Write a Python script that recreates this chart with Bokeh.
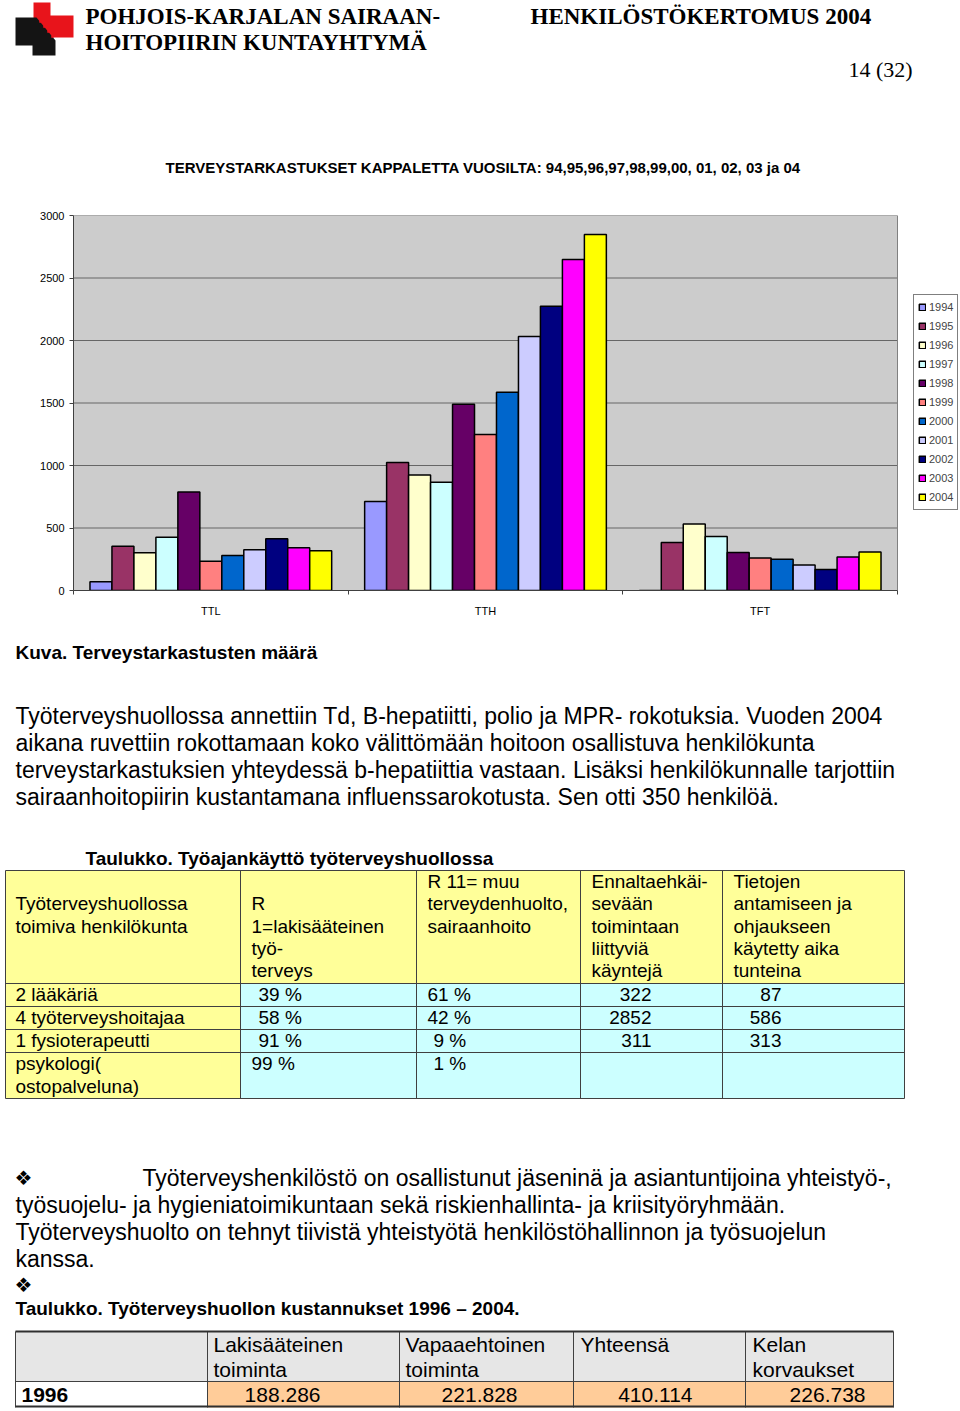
from bokeh.plotting import figure
from bokeh.models import Range1d, FixedTicker, Legend, LegendItem, ColumnDataSource
from bokeh.transform import dodge
from bokeh.core.properties import value
from bokeh.embed import file_html
from bokeh.resources import INLINE

# ---------------- chart data ----------------
categories = ["TTL", "TTH", "TFT"]
years = ["1994", "1995", "1996", "1997", "1998", "1999", "2000", "2001", "2002", "2003", "2004"]
ttl_values = [70, 355, 302, 427, 788, 235, 280, 326, 414, 342, 318]
tth_values = [712, 1024, 925, 867, 1491, 1248, 1587, 2032, 2275, 2648, 2848]
tft_values = [0, 384, 533, 432, 304, 261, 251, 205, 168, 269, 309]
year_colors = ["#9999FF", "#993366", "#FFFFCC", "#CCFFFF", "#660066", "#FF8080",
               "#0066CC", "#CCCCFF", "#000080", "#FF00FF", "#FFFF00"]
y_ticks = [0, 500, 1000, 1500, 2000, 2500, 3000]
chart_title = "TERVEYSTARKASTUKSET KAPPALETTA VUOSILTA: 94,95,96,97,98,99,00, 01, 02, 03 ja 04"

# ---------------- page texts ----------------
org_lines = ["POHJOIS-KARJALAN SAIRAAN-", "HOITOPIIRIN KUNTAYHTYMÄ"]
doc_title = "HENKILÖSTÖKERTOMUS 2004"
page_no = "14 (32)"
figure_caption = "Kuva. Terveystarkastusten määrä"
paragraph1 = [
    "Työterveyshuollossa annettiin Td, B-hepatiitti, polio ja MPR- rokotuksia. Vuoden 2004",
    "aikana ruvettiin rokottamaan koko välittömään hoitoon osallistuva henkilökunta",
    "terveystarkastuksien yhteydessä b-hepatiittia vastaan.  Lisäksi henkilökunnalle tarjottiin",
    "sairaanhoitopiirin kustantamana influenssarokotusta. Sen otti 350 henkilöä.",
]
table1_title = "Taulukko. Työajankäyttö työterveyshuollossa"
table1_head = [
    ["", "Työterveyshuollossa", "toimiva henkilökunta", "", ""],
    ["", "R", "1=lakisääteinen", "työ-", "terveys"],
    ["R 11= muu", "terveydenhuolto,", "sairaanhoito", "", ""],
    ["Ennaltaehkäi-", "sevään", "toimintaan", "liittyviä", "käyntejä"],
    ["Tietojen", "antamiseen ja", "ohjaukseen", "käytetty aika", "tunteina"],
]
table1_staff = ["2 lääkäriä", "4 työterveyshoitajaa", "1 fysioterapeutti"]
table1_r1 = ["39 %", "58 %", "91 %", "99 %"]
table1_r11 = ["61 %", "42 %", "9 %", "1 %"]
table1_visits = ["322", "2852", "311"]
table1_hours = ["87", "586", "313"]
bullet_par = [
    "Työterveyshenkilöstö on osallistunut jäseninä ja asiantuntijoina yhteistyö-,",
    "työsuojelu- ja hygieniatoimikuntaan sekä riskienhallinta- ja kriisityöryhmään.",
    "Työterveyshuolto on tehnyt tiivistä yhteistyötä henkilöstöhallinnon ja  työsuojelun",
    "kanssa.",
]
table2_title = "Taulukko. Työterveyshuollon kustannukset 1996 – 2004."
table2_head = [["Lakisääteinen", "toiminta"], ["Vapaaehtoinen", "toiminta"],
               ["Yhteensä", ""], ["Kelan", "korvaukset"]]
table2_year = "1996"
table2_values = ["188.286", "221.828", "410.114", "226.738"]

SANS = "Liberation Sans"
SERIF = "Liberation Serif"
W = 960


def page_fig(top, bottom):
    f = figure(width=W, height=bottom - top, x_range=Range1d(0, W),
               y_range=Range1d(bottom, top), output_backend="svg",
               toolbar_location=None, min_border=0,
               x_axis_location=None, y_axis_location=None)
    f.grid.visible = False
    f.outline_line_color = None
    f.background_fill_color = "white"
    f.border_fill_color = "white"
    return f


def put(p, xs, ys, texts, size, font=SANS, style="normal", align="left"):
    src = ColumnDataSource(dict(x=xs, y=ys, t=texts))
    p.text(x="x", y="y", text="t", source=src, text_font=value(font),
           text_font_size=value(size), text_font_style=value(style),
           text_align=value(align), text_baseline=value("middle"),
           text_color="black")


# ================= header figure =================
pa = page_fig(0, 200)
pa.patch([33, 50, 50, 73, 73, 33], [2, 2, 15, 15, 37, 37], fill_color="#E8141B", line_color=None)
pa.patch([15, 36, 55, 55, 32, 32, 15], [17, 17, 40, 55, 55, 45, 45], fill_color="#141414", line_color=None)
pa.rect([40, 44, 48, 52], [21, 26, 31, 36], width=2.5, height=2.5, fill_color="#E8141B", line_color=None)
put(pa, [85, 85], [16, 42], org_lines, "23px", SERIF, "bold")
put(pa, [530], [16], [doc_title], "23px", SERIF, "bold")
put(pa, [848], [69], [page_no], "22px", SERIF)
put(pa, [165], [167], [chart_title], "15px", SANS, "bold")

# ================= chart figure =================
# frame spans from the plot's left edge to the page's right edge; the
# category area (plot area) covers 824 of its 887 px, the rest holds the legend
n_cat = len(categories)
plot_px, frame_px = 824, 887
n_years = len(years)
bar_w = 0.08
pb = figure(width=W, height=430, x_range=Range1d(0, n_cat * frame_px / plot_px),
            y_range=Range1d(y_ticks[0], y_ticks[-1]), output_backend="svg",
            toolbar_location=None, min_border_left=73, min_border_right=0,
            min_border_top=15, min_border_bottom=40)
pb.background_fill_color = "white"
pb.border_fill_color = "white"
pb.outline_line_color = None
pb.grid.visible = False

# plot area background and gridlines
pb.quad(left=[0], right=[n_cat], bottom=[y_ticks[0]], top=[y_ticks[-1]],
        fill_color="#CCCCCC", line_color=None)
pb.segment(x0=[0] * len(y_ticks), x1=[n_cat] * len(y_ticks), y0=y_ticks, y1=y_ticks,
           line_color="#666666", line_width=1)
pb.segment(x0=[n_cat], x1=[n_cat], y0=[y_ticks[0]], y1=[y_ticks[-1]],
           line_color="#808080", line_width=1)

centers = [i + 0.5 for i in range(n_cat)]
items = []
for j, yr in enumerate(years):
    src = ColumnDataSource(dict(x=centers, top=[ttl_values[j], tth_values[j], tft_values[j]]))
    r = pb.vbar(x=dodge("x", (j - (n_years - 1) / 2) * bar_w), top="top", bottom=0,
                width=bar_w, source=src, fill_color=year_colors[j],
                line_color="black", line_width=1.5)
    items.append(LegendItem(label=yr, renderers=[r]))

pb.yaxis.ticker = FixedTicker(ticks=y_ticks)
pb.yaxis.major_tick_in = 0
pb.yaxis.major_tick_out = 4
pb.yaxis.minor_tick_line_color = None
pb.yaxis.major_label_standoff = 5
pb.yaxis.axis_line_color = "#404040"
pb.yaxis.major_tick_line_color = "#404040"

pb.xaxis.bounds = (0, n_cat)
pb.xaxis.ticker = FixedTicker(ticks=centers, minor_ticks=[float(i) for i in range(n_cat + 1)])
pb.xaxis.major_label_overrides = {c: lab for c, lab in zip(centers, categories)}
pb.xaxis.major_tick_line_color = None
pb.xaxis.major_tick_out = 0
pb.xaxis.major_tick_in = 0
pb.xaxis.minor_tick_in = 0
pb.xaxis.minor_tick_out = 4
pb.xaxis.minor_tick_line_color = "#404040"
pb.xaxis.major_label_standoff = 10
pb.xaxis.axis_line_color = "#404040"
for ax in (pb.xaxis, pb.yaxis):
    ax.major_label_text_font = SANS
    ax.major_label_text_font_size = "11px"
    ax.major_label_text_color = "black"

legend = Legend(items=items, location=(840, 80), orientation="vertical",
                border_line_color="black", border_line_width=1,
                background_fill_color="white", background_fill_alpha=1.0,
                glyph_width=8, glyph_height=8, label_text_font=SANS,
                label_text_font_size="11px", label_standoff=3, padding=4,
                spacing=3, label_height=16, margin=0)
pb.add_layout(legend)

# ================= body figure =================
pc = page_fig(630, 1411)
put(pc, [15], [652], [figure_caption], "19px", SANS, "bold")
put(pc, [15] * 4, [715, 742, 769, 796], paragraph1, "23px")

# table 1
put(pc, [85], [858], [table1_title], "19px", SANS, "bold")
t1x = [5, 240, 416, 580, 722, 904]
t1y = [870, 983, 1006, 1029, 1052, 1098]
L, R, T, B, C = [], [], [], [], []
for ri in range(len(t1y) - 1):
    for ci in range(len(t1x) - 1):
        L.append(t1x[ci]); R.append(t1x[ci + 1]); T.append(t1y[ri]); B.append(t1y[ri + 1])
        C.append("#FFFF99" if (ri == 0 or ci == 0) else "#CCFFFF")
pc.quad(left=L, right=R, top=T, bottom=B, fill_color=C, line_color=None)
pc.segment(x0=[t1x[0]] * len(t1y), x1=[t1x[-1]] * len(t1y), y0=t1y, y1=t1y,
           line_color="#404040", line_width=1)
pc.segment(x0=t1x, x1=t1x, y0=[t1y[0]] * len(t1x), y1=[t1y[-1]] * len(t1x),
           line_color="#404040", line_width=1)
head_y = [881, 903, 926, 948, 970]
head_x = [15, 251, 427, 591, 733]
for cx, lines in zip(head_x, table1_head):
    ys = [y for y, s in zip(head_y, lines) if s]
    ts = [s for s in lines if s]
    put(pc, [cx] * len(ts), ys, ts, "19px")
row_y = [994, 1017, 1040]
put(pc, [15] * 3, row_y, table1_staff, "19px")
put(pc, [15, 15], [1063, 1086], ["psykologi(", "ostopalveluna)"], "19px")
put(pc, [258, 258, 258, 251], row_y + [1063], table1_r1, "19px")
put(pc, [427, 427, 433, 433], row_y + [1063], table1_r11, "19px")
put(pc, [651] * 3, row_y, table1_visits, "19px", align="right")
put(pc, [781] * 3, row_y, table1_hours, "19px", align="right")

# bullet paragraph
put(pc, [14, 14], [1177, 1284], ["❖", "❖"], "20px", "DejaVu Sans")
put(pc, [142, 15, 15, 15], [1177, 1204, 1231, 1258], bullet_par, "23px")

# table 2
put(pc, [15], [1308], [table2_title], "19px", SANS, "bold")
t2x = [15, 207, 399, 573, 745, 893]
t2y = [1331, 1381, 1407]
L, R, T, B, C = [], [], [], [], []
for ri in range(2):
    for ci in range(5):
        L.append(t2x[ci]); R.append(t2x[ci + 1]); T.append(t2y[ri]); B.append(t2y[ri + 1])
        C.append("#E6E6E6" if ri == 0 else ("white" if ci == 0 else "#FFCC99"))
pc.quad(left=L, right=R, top=T, bottom=B, fill_color=C, line_color=None)
pc.segment(x0=t2x, x1=t2x, y0=[t2y[0]] * len(t2x), y1=[t2y[-1]] * len(t2x),
           line_color="#404040", line_width=1)
pc.segment(x0=[t2x[0]], x1=[t2x[-1]], y0=[t2y[1]], y1=[t2y[1]], line_color="#404040", line_width=1)
pc.segment(x0=[t2x[0]] * 2, x1=[t2x[-1]] * 2, y0=[t2y[0], t2y[2] - 1], y1=[t2y[0], t2y[2] - 1],
           line_color="#303030", line_width=2)
hx = [213, 405, 580, 752]
for cx, lines in zip(hx, table2_head):
    ys = [y for y, s in zip([1344, 1369], lines) if s]
    ts = [s for s in lines if s]
    put(pc, [cx] * len(ts), ys, ts, "21px")
put(pc, [21], [1394], [table2_year], "21px", SANS, "bold")
put(pc, [320, 517, 692, 865], [1394] * 4, table2_values, "21px", align="right")

open("out.html", "w").write(file_html([pa, pb, pc], INLINE))
